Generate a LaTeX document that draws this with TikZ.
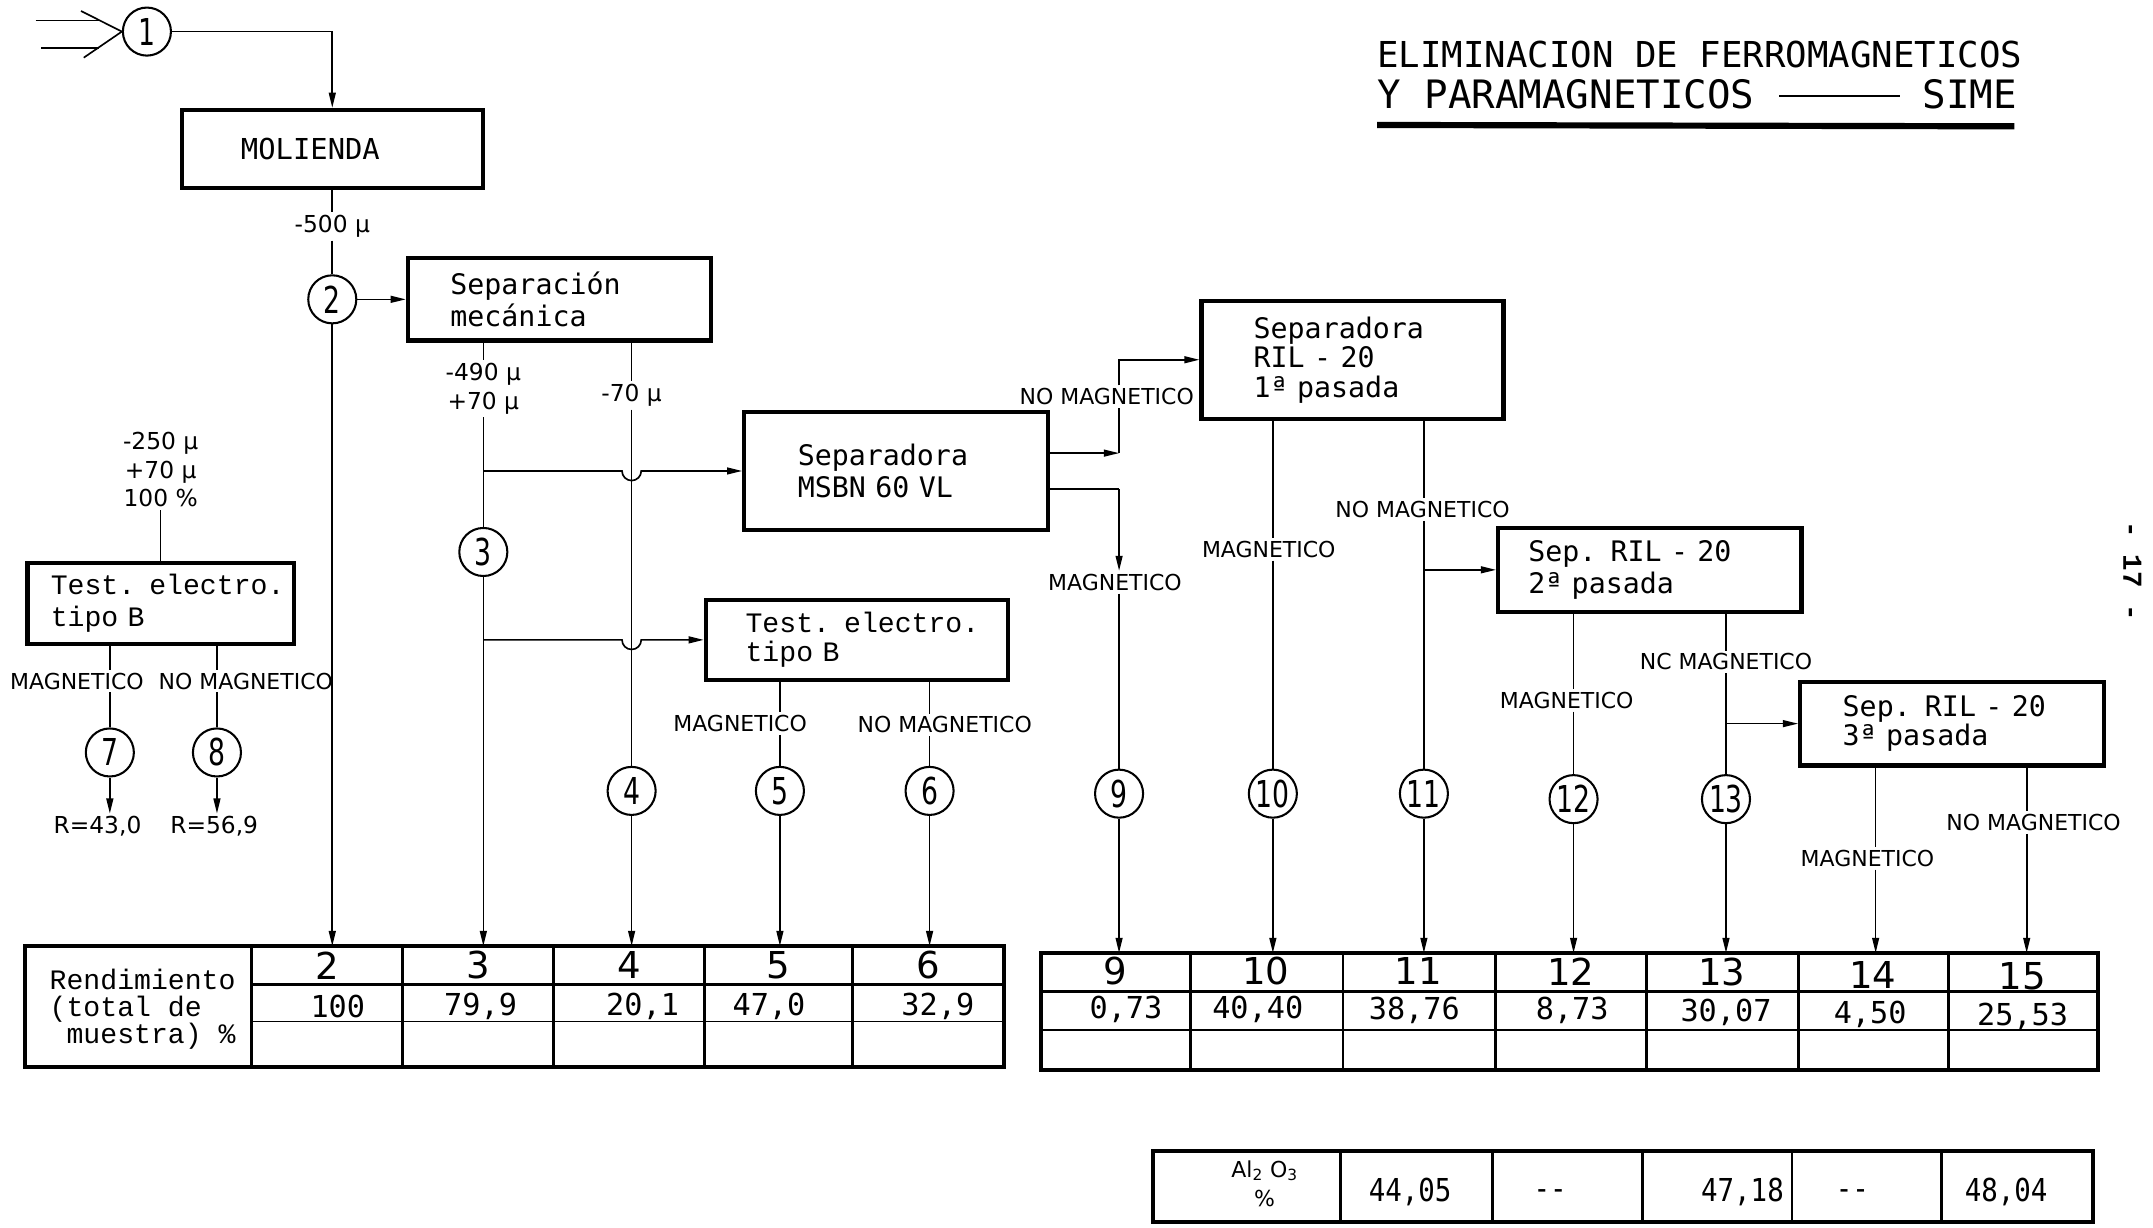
\documentclass[tikz,border=0pt]{standalone}
\usepackage{fontspec}
\setmainfont{DejaVu Sans}
\newfontfamily\lerf{DejaVu Sans}
\newfontfamily\monof{DejaVu Sans Mono}
\newfontfamily\valcf[FakeStretch=0.87]{DejaVu Sans Mono}
\newfontfamily\cirf[FakeStretch=0.72]{DejaVu Sans}
\newfontfamily\twf{Liberation Mono}
\usetikzlibrary{arrows.meta,calc}
\tikzset{
  lw/.style={line width=1.2pt},
  arr/.style={line width=1.2pt,-{Triangle[length=11pt,width=5pt]}},
  circ/.style={draw,circle,line width=1.5pt,minimum size=35pt,inner sep=0pt,font=\cirf\fontsize{27}{27}\selectfont},
  bx/.style n args={4}{draw,line width=3pt,align=left,inner ysep=0pt,
     minimum width=#1pt,minimum height=#2pt,text width=#3pt,inner xsep=#4pt},
  lerfont/.style={font=\monof\fontsize{20.6}{23.5}\selectfont},
  twfont/.style={font=\twf\fontsize{20.5}{21.5}\selectfont},
  lab/.style={font=\lerf\fontsize{16}{20}\selectfont,inner sep=2pt},
  smlab/.style={font=\lerf\fontsize{17}{21.5}\selectfont,inner sep=2pt,align=center},
  hdr/.style={font=\lerf\fontsize{27}{27}\selectfont,inner sep=0pt},
  val/.style={font=\monof\fontsize{22}{22}\selectfont,inner sep=0pt},
  alval/.style={font=\valcf\fontsize{23}{23}\selectfont,inner sep=0pt},
  tabthick/.style={line width=3pt},
  tabmid/.style={line width=2pt},
  tabthin/.style={line width=1.2pt},
}
\begin{document}
\begin{tikzpicture}[x=1pt,y=-1pt]
\useasboundingbox (0,0) rectangle (1568,894);

% ---------- title ----------
\node[anchor=base west,inner sep=0pt,font=\monof\fontsize{26}{30}\selectfont] (tit1) at (1003,49) {ELIMINACION DE FERROMAGNETICOS};
\node[anchor=base west,inner sep=0pt,font=\monof\fontsize{28.5}{30}\selectfont] (tit2) at (1003,79) {Y PARAMAGNETICOS};
\node[anchor=base east,inner sep=0pt,font=\monof\fontsize{28.5}{30}\selectfont] (tit3) at (1469,79) {SIME};
\draw[line width=1.5pt] ([xshift=18pt,yshift=9pt]tit2.base east) -- ([xshift=-16pt,yshift=9pt]tit3.base west);
\draw[line width=4.5pt] (1003,91) -- (1467,92);

% page number
\node[rotate=-90,font=\twf\bfseries\fontsize{20}{24}\selectfont] (pg) at (1553,416) {- 17 -};

% ---------- input ----------
\node[circ] (c1) at (107,23) {1};
\coordinate (ia) at (26,15); \coordinate (ib) at (73,15); \coordinate (ic) at (59,8);
\coordinate (id) at (30,35); \coordinate (ie) at (72,35); \coordinate (if) at (61,42);
\draw[lw] (ia) -- (ib);
\draw[lw] (ic) -- (c1.west);
\draw[lw] (id) -- (ie);
\draw[lw] (if) -- (c1.west);

% ---------- molienda ----------
\node[bx={219}{57}{133}{43},font=\monof\fontsize{21}{24}\selectfont] (moli) at (242,108.5) {MOLIENDA};
\draw[arr] (c1.east) -| (moli.north);
\node[smlab] (l500) at (242,165) {-500 µ};
\draw[lw] (moli.south) -- (l500.north);
\node[circ] (c2) at (242,218) {2};
\draw[lw] (l500.south) -- (c2.north);

% ---------- separacion mecanica ----------
\node[bx={221}{60}{159}{31},lerfont] (sepm) at (407.5,218) {Separación\\mecánica};
\draw[arr] (c2.east) -- (sepm.west);
\coordinate (t2) at (242,689);
\draw[arr] (c2.south) -- (t2);

\node[smlab] (l490) at (352,283) {-490 µ\\+70 µ};
\draw[lw] (sepm.south -| l490) -- (l490.north);
\node[circ] (c3) at (352,402) {3};
\draw[lw] (l490.south) -- (c3.north);
\coordinate (t3) at (352,689);
\draw[arr] (c3.south) -- (t3);
\coordinate (j1) at (352,343);
\coordinate (j2) at (352,466);

\node[smlab] (l70) at (460,288) {-70 µ};
\draw[lw] (sepm.south -| l70) -- (l70.north);
\node[circ] (c4) at (460,576) {4};
\draw[lw] (l70.south) -- (c4.north);
\coordinate (t4) at (460,689);
\draw[arr] (c4.south) -- (t4);

% ---------- MSBN ----------
\node[bx={221}{86}{143}{39},lerfont] (msbn) at (652.5,343) {Separadora\\\mbox{MSBN 60 VL}};
\draw[arr] (j1) -- ($(c4 |- j1)+(-7,0)$) arc[start angle=180,end angle=360,radius=7pt] -- (msbn.west);

% ---------- test electro (middle) ----------
\node[bx={220}{58}{162}{29},twfont] (teM) at (624,466) {\mbox{Test. electro.}\\\mbox{tipo B}};
\draw[arr] (j2) -- ($(c4 |- j2)+(-7,0)$) arc[start angle=180,end angle=360,radius=7pt] -- (teM.west);

\node[lab] (lmagM) at (539,527) {MAGNETICO};
\node[lab] (lnomM) at (688,528) {NO MAGNETICO};
\node[circ] (c5) at (568,576) {5};
\node[circ] (c6) at (677,576) {6};
\draw[lw] (teM.south -| c5) -- (c5 |- lmagM.north);
\draw[lw] (c5 |- lmagM.south) -- (c5.north);
\draw[lw] (teM.south -| c6) -- (c6 |- lnomM.north);
\draw[lw] (c6 |- lnomM.south) -- (c6.north);
\coordinate (t5) at (568,689);
\coordinate (t6) at (677,689);
\draw[arr] (c5.south) -- (t5);
\draw[arr] (c6.south) -- (t6);

% ---------- left branch ----------
\node[smlab,font=\lerf\fontsize{17}{21}\selectfont] (l250) at (117,342) {-250 µ\\+70 µ\\100 \%};
\node[bx={194}{59}{160}{17},font=\twf\fontsize{20.5}{23}\selectfont] (teL) at (117,439.5) {\mbox{Test. electro.}\\\mbox{tipo B}};
\draw[lw] (l250.south) -- (teL.north);
\node[lab] (lmagL) at (56,496) {MAGNETICO};
\node[lab] (lnomL) at (179,496) {NO MAGNETICO};
\node[circ] (c7) at (80,548) {7};
\node[circ] (c8) at (158,548) {8};
\draw[lw] (teL.south -| c7) -- (c7 |- lmagL.north);
\draw[lw] (c7 |- lmagL.south) -- (c7.north);
\draw[lw] (teL.south -| c8) -- (c8 |- lnomL.north);
\draw[lw] (c8 |- lnomL.south) -- (c8.north);
\node[smlab] (lr7) at (71,602) {R=43,0};
\node[smlab] (lr8) at (156,602) {R=56,9};
\draw[arr] (c7.south) -- (c7 |- lr7.north);
\draw[arr] (c8.south) -- (c8 |- lr8.north);

% ---------- right part ----------
\coordinate (m1) at (815,330);
\coordinate (m2) at (815,356);
\node[lab] (lnoMS) at (806,289) {NO MAGNETICO};
\node[bx={220}{86}{144}{38},font=\monof\fontsize{20.6}{21.5}\selectfont] (ril1) at (985,262) {Separadora\\\mbox{RIL - 20}\\\mbox{1ª pasada}};
\draw[arr] (msbn.east |- m1) -- (m1);
\draw[lw] (m1) -- (m1 |- lnoMS.south);
\draw[arr] (m1 |- lnoMS.north) |- (ril1.west);
\node[lab] (lmagMS) at (812,424) {MAGNETICO};
\draw[lw] (msbn.east |- m2) -- (m2);
\draw[arr] (m2) -- (m2 |- lmagMS.north);
\node[circ] (c9) at (815,578) {9};
\draw[lw] (m2 |- lmagMS.south) -- (c9.north);
\coordinate (t9) at (815,694);
\draw[arr] (c9.south) -- (t9);

\node[lab] (lmag1) at (924,400) {MAGNETICO};
\node[circ] (c10) at (927,578) {10};
\draw[lw] (ril1.south -| c10) -- (c10 |- lmag1.north);
\draw[lw] (c10 |- lmag1.south) -- (c10.north);
\coordinate (t10) at (927,694);
\draw[arr] (c10.south) -- (t10);

\node[lab] (lnom1) at (1036,371) {NO MAGNETICO};
\node[circ] (c11) at (1037,578) {11};
\draw[lw] (ril1.south -| c11) -- (c11 |- lnom1.north);
\draw[lw] (c11 |- lnom1.south) -- (c11.north);
\coordinate (t11) at (1037,694);
\draw[arr] (c11.south) -- (t11);

\node[bx={221}{61}{177}{22},font=\monof\fontsize{20.6}{23}\selectfont] (ril2) at (1201.5,415) {\mbox{Sep. RIL - 20}\\\mbox{2ª pasada}};
\coordinate (j3) at (1037,415);
\draw[arr] (j3) -- (ril2.west);

\node[lab] (lmag2) at (1141,510) {MAGNETICO};
\node[circ] (c12) at (1146,582) {12};
\draw[lw] (ril2.south -| c12) -- (c12 |- lmag2.north);
\draw[lw] (c12 |- lmag2.south) -- (c12.north);
\coordinate (t12) at (1146,694);
\draw[arr] (c12.south) -- (t12);

\node[lab] (lnc2) at (1257,482) {NC MAGNETICO};
\node[circ] (c13) at (1257,582) {13};
\draw[lw] (ril2.south -| c13) -- (c13 |- lnc2.north);
\draw[lw] (c13 |- lnc2.south) -- (c13.north);
\coordinate (t13) at (1257,694);
\draw[arr] (c13.south) -- (t13);

\node[bx={221}{61}{159}{31},font=\monof\fontsize{20.6}{21.5}\selectfont] (ril3) at (1421.5,527) {\mbox{Sep. RIL - 20}\\\mbox{3ª pasada}};
\coordinate (j4) at (1257,527);
\draw[arr] (j4) -- (ril3.west);

\coordinate (x14) at (1366,600);
\coordinate (x15) at (1476,600);
\node[lab] (lmag3) at (1360,625) {MAGNETICO};
\node[lab] (lnom3) at (1481,599) {NO MAGNETICO};
\coordinate (t14) at (1366,694);
\coordinate (t15) at (1476,694);
\draw[lw] (ril3.south -| x14) -- (x14 |- lmag3.north);
\draw[arr] (x14 |- lmag3.south) -- (t14);
\draw[lw] (ril3.south -| x15) -- (x15 |- lnom3.north);
\draw[arr] (x15 |- lnom3.south) -- (t15);

% ---------- left table ----------
\draw[tabthick] (18,689) rectangle (731,777);
\foreach \xx in {183,293,403,513,621} \draw[tabmid] (\xx,689) -- (\xx,777);
\draw[line width=2.5pt] (183,717) -- (731,717);
\draw[tabthin] (183,744) -- (731,744);
\node[anchor=west,inner sep=0pt,align=left,font=\twf\fontsize{20.5}{20}\selectfont] (rend) at (36,735) {Rendimiento\\(total~de\\~muestra)~\%};
\node[hdr] (h2) at (238,703) {2};
\node[hdr] (h3) at (348,703) {3};
\node[hdr] (h4) at (458,703) {4};
\node[hdr] (h5) at (567,703) {5};
\node[hdr] (h6) at (676,703) {6};
\node[val] (v2) at (246,733) {100};
\node[val] (v3) at (350,733) {79,9};
\node[val] (v4) at (468,733) {20,1};
\node[val] (v5) at (560,733) {47,0};
\node[val] (v6) at (683,733) {32,9};

% ---------- right table ----------
\draw[tabthick] (758,694) rectangle (1528,779);
\foreach \xx in {867,978,1089,1199,1310,1419} \draw[tabmid] (\xx,694) -- (\xx,779);
\draw[line width=2.5pt] (758,722) -- (1528,722);
\draw[tabthin] (758,750) -- (1528,750);
\node[hdr] (h9) at (812,707) {9};
\node[hdr] (h10) at (922,707) {10};
\node[hdr] (h11) at (1033,707) {11};
\node[hdr] (h12) at (1144,708) {12};
\node[hdr] (h13) at (1254,708) {13};
\node[hdr] (h14) at (1364,710) {14};
\node[hdr] (h15) at (1473,711) {15};
\node[val] (v9) at (820,735) {0,73};
\node[val] (v10) at (916,735) {40,40};
\node[val] (v11) at (1030,736) {38,76};
\node[val] (v12) at (1145,736) {8,73};
\node[val] (v13) at (1257,737) {30,07};
\node[val] (v14) at (1362,739) {4,50};
\node[val] (v15) at (1473,740) {25,53};

% ---------- Al2O3 table ----------
\draw[tabthick] (840,838) rectangle (1524,890);
\foreach \xx in {976,1087,1196,1305,1414} \draw[tabmid] (\xx,838) -- (\xx,890);
\node[font=\lerf\fontsize{16}{21}\selectfont,align=center,inner sep=0pt] (al) at (921,862) {Al\textsubscript{2} O\textsubscript{3}\\\%};
\node[alval] (a1) at (1027,868) {44,05};
\node[alval] (a2) at (1129,870) {--};
\node[alval] (a3) at (1269,868) {47,18};
\node[alval] (a4) at (1349,870) {--};
\node[alval] (a5) at (1461,868) {48,04};
\end{tikzpicture}
\end{document}
